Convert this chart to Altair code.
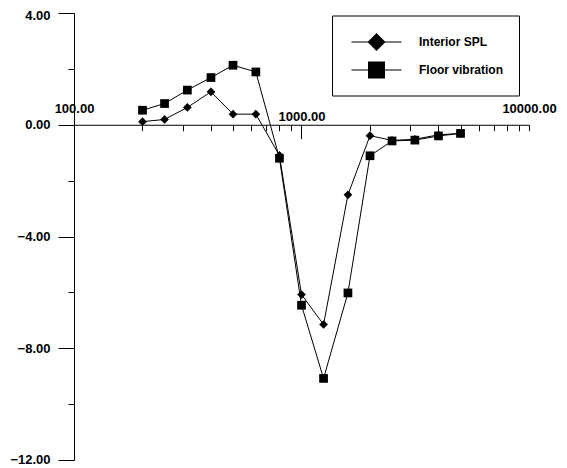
import altair as alt
import pandas as pd

# 1/3-octave band centre frequencies (Hz)
freqs = [200, 250, 315, 400, 500, 630, 800, 1000, 1250, 1600, 2000, 2500, 3150, 4000, 5000]
interior_spl = [0.11, 0.19, 0.62, 1.18, 0.38, 0.38, -1.10, -6.08, -7.15, -2.51, -0.39, -0.56, -0.52, -0.36, -0.31]
floor_vibration = [0.52, 0.76, 1.24, 1.69, 2.13, 1.89, -1.20, -6.46, -9.08, -6.02, -1.11, -0.58, -0.55, -0.40, -0.31]
series_names = ["Interior SPL", "Floor vibration"]
series_shapes = ["diamond", "square"]

x_ticks = [100, 200, 300, 400, 500, 600, 700, 800, 900,
           1000, 2000, 3000, 4000, 5000, 6000, 7000, 8000, 9000, 10000]
y_ticks = [-12, -10, -8, -6, -4, -2, 0, 2, 4]

rows = []
for name, vals in zip(series_names, [interior_spl, floor_vibration]):
    for f, v in zip(freqs, vals):
        rows.append({"freq": f, "value": v, "series": name})
df = pd.DataFrame(rows)

W, H = 455, 447
FONT = "Liberation Sans"

x = alt.X(
    "freq:Q",
    scale=alt.Scale(type="log", domain=[100, 10000], nice=False),
    axis=alt.Axis(
        orient="bottom",
        offset=-H * 12 / 16,
        values=x_ticks,
        tickSize={"condition": {"test": "datum.value == 1000", "value": 14}, "value": 6},
        labelExpr="(datum.value == 100 || datum.value == 1000 || datum.value == 10000) ? format(datum.value, '.2f') : ''",
        labelPadding=-18,
        labelBaseline="alphabetic",
        labelFlush=False,
        labelOverlap=False,
        title=None,
        grid=False,
    ),
)
y = alt.Y(
    "value:Q",
    scale=alt.Scale(domain=[-12, 4], nice=False, zero=False),
    axis=alt.Axis(
        values=y_ticks,
        tickSize={"condition": {"test": "datum.value % 4 != 0", "value": 6}, "value": 16},
        labelExpr="datum.value % 4 == 0 ? format(datum.value, '.2f') : ''",
        labelOffset={"condition": [{"test": "datum.value == 4", "value": 2},
                                   {"test": "datum.value == -12", "value": -1}], "value": 0},
        labelPadding=8,
        labelFlush=False,
        labelOverlap=False,
        title=None,
        grid=False,
    ),
)

diamond_path = "M-2.5,-0.05H2.5V0.05H-2.5ZM0,-0.9L0.9,0L0,0.9L-0.9,0Z"
square_path = "M-2.5,-0.05H2.5V0.05H-2.5ZM-0.85,-0.85H0.85V0.85H-0.85Z"
symbol_expr = "datum.value == 'Interior SPL' ? '" + diamond_path + "' : '" + square_path + "'"

lines = alt.Chart(df).mark_line(strokeWidth=1).encode(
    x=x,
    y=y,
    order="freq:Q",
    color=alt.Color(
        "series:N",
        scale=alt.Scale(domain=series_names, range=["black", "black"]),
        legend=alt.Legend(
            title=None,
            orient="none",
            legendX=258,
            legendY=2.5,
            padding=16,
            strokeColor="black",
            fillColor="white",
            symbolType={"expr": symbol_expr},
            symbolSize=400,
            symbolOffset=18,
            symbolFillColor="black",
            symbolStrokeColor="black",
            symbolStrokeWidth=0.01,
            symbolOpacity=1,
            labelOffset=32,
            rowPadding=8,
            labelFont=FONT,
            labelFontSize=12,
            labelFontWeight="bold",
            labelColor="black",
        ),
    ),
)

point_layers = [
    alt.Chart(df)
    .transform_filter(alt.datum.series == name)
    .mark_point(filled=True, opacity=1, size=76, color="black", shape=shape)
    .encode(x=x, y=y)
    for name, shape in zip(series_names, series_shapes)
]

chart = (
    alt.layer(lines, *point_layers)
    .properties(
        width=W,
        height=H,
        autosize="none",
        padding={"left": 66, "top": 5, "right": 30, "bottom": 5},
    )
    .configure_view(stroke=None)
    .configure_axis(
        domainColor="black",
        tickColor="black",
        labelColor="black",
        labelFont=FONT,
        labelFontSize=13,
        labelFontWeight="bold",
        domainWidth=1,
        tickWidth=1,
    )
)

chart.save("out.html", embed_options={"renderer": "svg", "actions": False})
